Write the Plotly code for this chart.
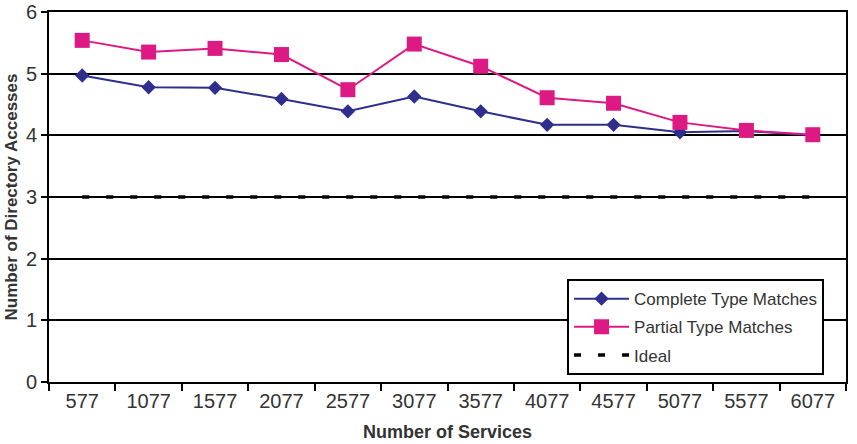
import plotly.graph_objects as go

categories = ["577", "1077", "1577", "2077", "2577", "3077", "3577", "4077", "4577", "5077", "5577", "6077"]
complete = [4.97, 4.78, 4.77, 4.59, 4.39, 4.63, 4.39, 4.17, 4.17, 4.05, 4.07, 4.0]
partial = [5.54, 5.35, 5.41, 5.31, 4.74, 5.48, 5.12, 4.61, 4.52, 4.21, 4.08, 4.01]
ideal = [3] * 12
y_ticks = [0, 1, 2, 3, 4, 5, 6]

fig = go.Figure()
fig.add_trace(go.Scatter(x=categories, y=complete, name="Complete Type Matches", mode="lines+markers",
                         legendgroup="a",
                         line=dict(color="#2E2E8E", width=2),
                         marker=dict(symbol="diamond", size=11, color="#2E2E8E")))
fig.add_trace(go.Scatter(x=categories, y=partial, name="Partial Type Matches", mode="lines+markers",
                         legendgroup="b",
                         line=dict(color="#DD1A83", width=2),
                         marker=dict(symbol="square", size=15, color="#DD1A83")))
fig.add_trace(go.Scatter(x=categories, y=ideal, name="Ideal", mode="lines", legendgroup="c",
                         line=dict(color="black", width=3.5, dash="7px,17px")))

fig.update_layout(
    width=857, height=444,
    margin=dict(l=49, r=11, t=12, b=62),
    plot_bgcolor="white", paper_bgcolor="white",
    font=dict(family="Liberation Sans, Arial", color="#333"),
    legend=dict(x=0.65, y=0.278, xanchor="left", yanchor="top",
                bgcolor="white", bordercolor="black", borderwidth=2,
                font=dict(size=17, color="#333"), itemwidth=55, tracegroupgap=3),
    xaxis=dict(type="category", range=[-0.5, 11.5], tickson="boundaries", automargin=False,
               ticks="outside", ticklen=7, tickwidth=2, tickcolor="black",
               showline=True, linecolor="black", linewidth=2, mirror=True,
               showgrid=False, tickfont=dict(size=20),
               title=dict(text="<b>Number of Services</b>", font=dict(size=18), standoff=14)),
    yaxis=dict(range=[0, 6], tickvals=y_ticks, ticks="outside", ticklen=6, tickwidth=2,
               automargin=False,
               tickcolor="black", showline=True, linecolor="black", linewidth=2, mirror=True,
               showgrid=True, gridcolor="black", gridwidth=2, zeroline=False,
               tickfont=dict(size=20),
               title=dict(text="<b>Number of Directory Accesses</b>", font=dict(size=17), standoff=4)),
)

fig.write_html("out.html")
